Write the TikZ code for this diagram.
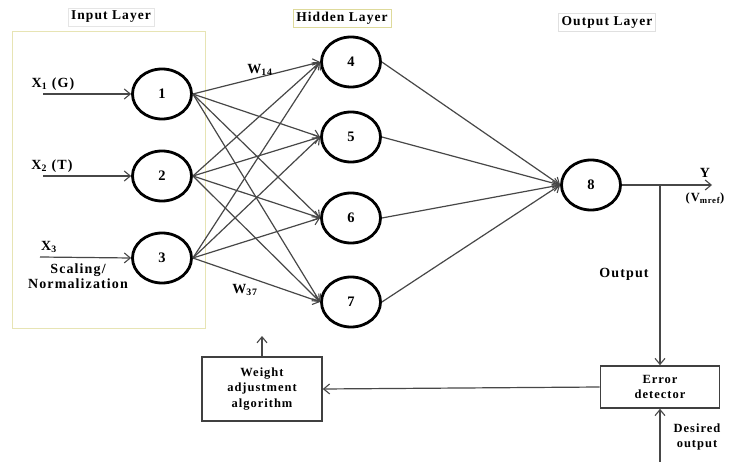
\documentclass[tikz,border=0pt]{standalone}
\usepackage{fontspec}
\setmainfont{Liberation Serif}[LetterSpace=8]
\usetikzlibrary{shapes.geometric,arrows.meta}
\tikzset{
  neuron/.style={ellipse,draw=black,line width=2.8pt,minimum width=59pt,minimum height=50pt,inner sep=0pt,font=\bfseries\fontsize{14.5}{14.5}\selectfont},
  conn/.style={draw=black!72,line width=1.2pt,-{Straight Barb[length=6pt,width=10pt,line width=1.1pt]}},
  blockbox/.style={draw=black!75,line width=1.6pt,align=center,inner sep=0pt,font=\bfseries\fontsize{12.5}{15.5}\selectfont},
  layerlbl/.style={font=\bfseries\fontsize{13.5}{14}\selectfont,inner sep=3pt},
  lbl/.style={font=\bfseries\fontsize{14}{15}\selectfont,inner sep=0pt,align=center}
}
\begin{document}
\begin{tikzpicture}[x=1pt,y=-1pt]
\useasboundingbox (0,0) rectangle (730,462);
\fill[white] (0,0) rectangle (730,462);

% input layer frame and layer captions
\draw[draw=olive!22,line width=1pt] (12,32) rectangle (205,328);
\node[layerlbl,draw=black!10] (tin) at (111,17) {Input Layer};
\node[layerlbl,draw=olive!30] (thid) at (342,18) {Hidden Layer};
\node[layerlbl,draw=black!12] (tout) at (607,22) {Output Layer};

% neurons
\node[neuron] (n1) at (162,94) {1};
\node[neuron] (n2) at (162,176) {2};
\node[neuron] (n3) at (162,258) {3};
\node[neuron] (n4) at (351,62) {4};
\node[neuron] (n5) at (351,137) {5};
\node[neuron] (n6) at (351,218) {6};
\node[neuron] (n7) at (351,302) {7};
\node[neuron] (n8) at (591,185) {8};

% inputs
\coordinate (x1s) at (43,94);
\coordinate (x2s) at (43,176);
\coordinate (x3s) at (40,257);
\draw[conn] (x1s) -- (n1.west);
\draw[conn] (x2s) -- (n2.west);
\draw[conn] (x3s) -- (n3.west);
\node[lbl] (lx1) at (53,84) {X\textsubscript{1}\,\,(G)};
\node[lbl] (lx2) at (52,166) {X\textsubscript{2} (T)};
\node[lbl] (lx3) at (49,247) {X\textsubscript{3}};
\node[lbl] (lsc) at (78,276) {Scaling/\\Normalization};

% input -> hidden
\foreach \i in {1,2,3}
  \foreach \h in {4,5,6,7}
    \draw[conn] (n\i.east) -- (n\h.west);
\node[lbl] (w14) at (260,70) {W\textsubscript{14}};
\node[lbl] (w37) at (245,290) {W\textsubscript{37}};

% hidden -> output
\foreach \h in {4,5,6,7}
  \draw[conn] (n\h.east) -- (n8.west);

% output branch
\coordinate (yend) at (712,185);
\coordinate (br) at (660,185);
\draw[conn] (n8.east) -- (yend);
\node[lbl] (ly) at (705,173) {Y};
\node[lbl,font=\bfseries\fontsize{12.5}{12}\selectfont] (lv) at (705,198) {(V\textsubscript{mref})};
\node[lbl] (lout) at (624,274) {Output};

% training loop
\node[blockbox,minimum width=119pt,minimum height=42pt] (err) at (660,387) {Error\\detector};
\node[blockbox,minimum width=120pt,minimum height=64pt] (wgt) at (262,389) {Weight\\adjustment\\algorithm};
\draw[conn] (br) -- (err.north);
\draw[conn] (err.west) -- (wgt.east);
\coordinate (wup) at (262,336);
\draw[conn] (wgt.north) -- (wup);
\coordinate (des) at (660,462);
\draw[conn] (des) -- (err.south);
\node[lbl,font=\bfseries\fontsize{12.5}{15}\selectfont] (ldes) at (697,437) {Desired\\output};
\end{tikzpicture}
\end{document}
